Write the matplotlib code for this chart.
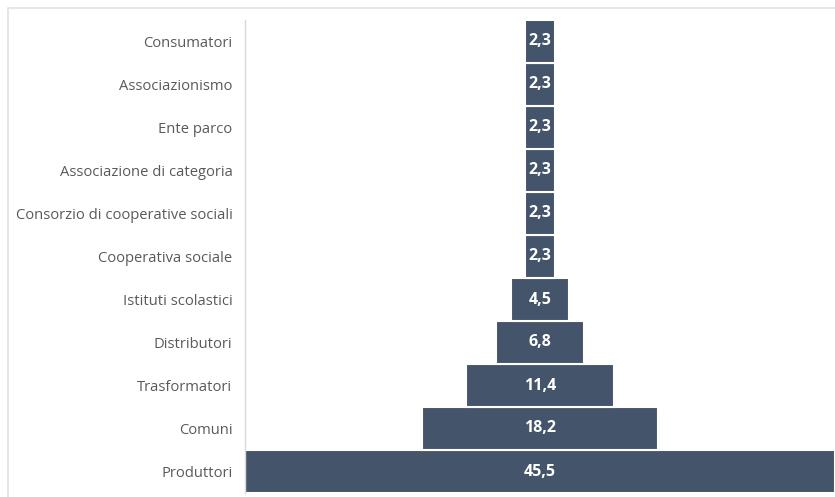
import matplotlib
matplotlib.use('Agg')
from matplotlib import pyplot as plt
from matplotlib.patches import Rectangle

# Quote percentuali per tipologia di soggetto (dal basso verso l'alto)
categorie = [
    'Produttori', 'Comuni', 'Trasformatori', 'Distributori',
    'Istituti scolastici', 'Cooperativa sociale',
    'Consorzio di cooperative sociali', 'Associazione di categoria',
    'Ente parco', 'Associazionismo', 'Consumatori',
]
valori = [45.5, 18.2, 11.4, 6.8, 4.5, 2.3, 2.3, 2.3, 2.3, 2.3, 2.3]

COLORE_BARRA = '#44546A'
COLORE_TESTO = '#595959'

plt.rcParams['font.family'] = ['Open Sans', 'DejaVu Sans']

fig = plt.figure(figsize=(8.35, 4.97), dpi=100)
W, H = 835, 497

# cornice grigia chiara dell'area grafico
fig.patches.append(Rectangle((8 / W, -0.1), 1.0, 1 - 8 / H + 0.1,
                             transform=fig.transFigure, fill=False,
                             edgecolor='#E3E3E3', linewidth=1.2))

ax = fig.add_axes([245 / W, 4 / H, 590 / W, 473 / H])

ypos = range(len(categorie))
sinistra = [-v / 2 for v in valori]
ax.barh(ypos, valori, left=sinistra, height=1.0, color=COLORE_BARRA,
        edgecolor='white', linewidth=1.5)

for y, v in zip(ypos, valori):
    ax.text(0, y, f'{v:.1f}'.replace('.', ','), ha='center', va='center',
            color='white', fontsize=11.5, fontweight='bold')

half = max(valori) / 2
ax.set_xlim(-half, half)
ax.set_ylim(-0.5, len(categorie) - 0.5)
ax.set_yticks(list(ypos))
ax.set_yticklabels(categorie, color=COLORE_TESTO, fontsize=10.6)
ax.tick_params(axis='y', length=0, pad=9)
ax.set_xticks([])

for s in ('top', 'right', 'bottom'):
    ax.spines[s].set_visible(False)
ax.spines['left'].set_color('#D9D9D9')
ax.spines['left'].set_linewidth(1.0)

fig.savefig('out.png', dpi=100)
